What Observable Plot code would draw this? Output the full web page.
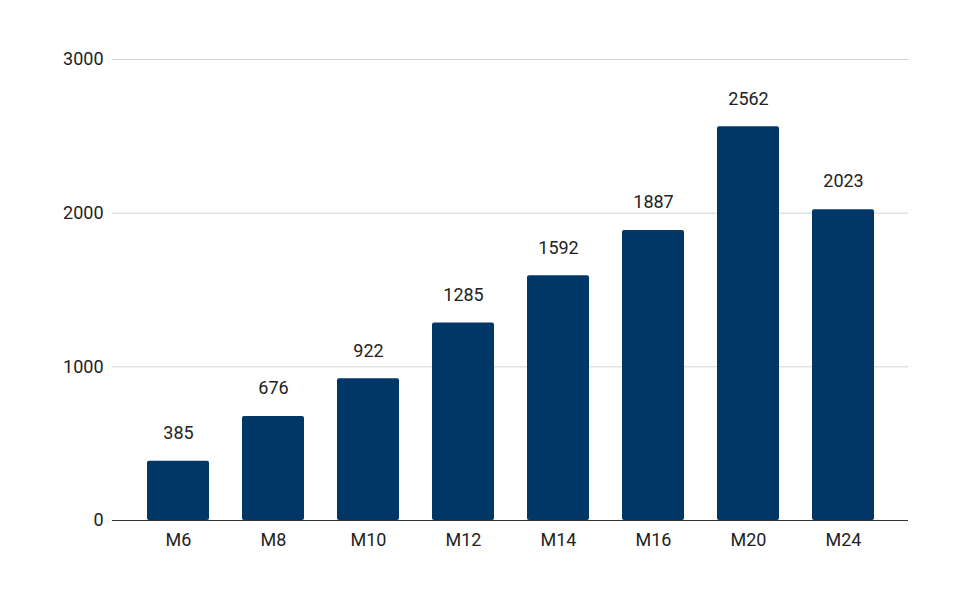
<!DOCTYPE html>
<html>
<head>
<meta charset="utf-8">
<script src="https://cdn.jsdelivr.net/npm/d3@7"></script>
<script src="https://cdn.jsdelivr.net/npm/@observablehq/plot@0.6"></script>
<style>
  html, body { margin: 0; padding: 0; background: #fff; }
  #chart { width: 970px; height: 600px; }
</style>
</head>
<body>
<div id="chart"></div>
<script>
const categories = ["M6", "M8", "M10", "M12", "M14", "M16", "M20", "M24"];
const values = [385, 676, 922, 1285, 1592, 1887, 2562, 2023];
const yTicks = [0, 1000, 2000, 3000];

const data = categories.map((c, i) => ({category: c, value: values[i]}));

const chart = Plot.plot({
  width: 970,
  height: 600,
  marginTop: 59,
  marginBottom: 80,
  marginLeft: 112,
  marginRight: 62,
  style: {fontFamily: "Roboto, sans-serif", fontSize: "18px", color: "#222", background: "#fff"},
  x: {domain: categories, padding: 0.35, label: null, tickSize: 0, tickPadding: 13},
  y: {domain: [0, 3000], ticks: yTicks, tickFormat: d => String(d), label: null, tickSize: 0, tickPadding: 9},
  marks: [
    Plot.ruleY(yTicks, {stroke: "#d3d3d3", strokeWidth: 1}),
    Plot.barY(data, {x: "category", y: "value", fill: "#003767", rx: 2}),
    Plot.ruleY([0], {stroke: "#333", strokeWidth: 1}),
    Plot.text(data, {x: "category", y: "value", text: d => String(d.value), dy: -28, fontSize: 18, fill: "#222"})
  ]
});
document.getElementById("chart").appendChild(chart);
</script>
</body>
</html>
